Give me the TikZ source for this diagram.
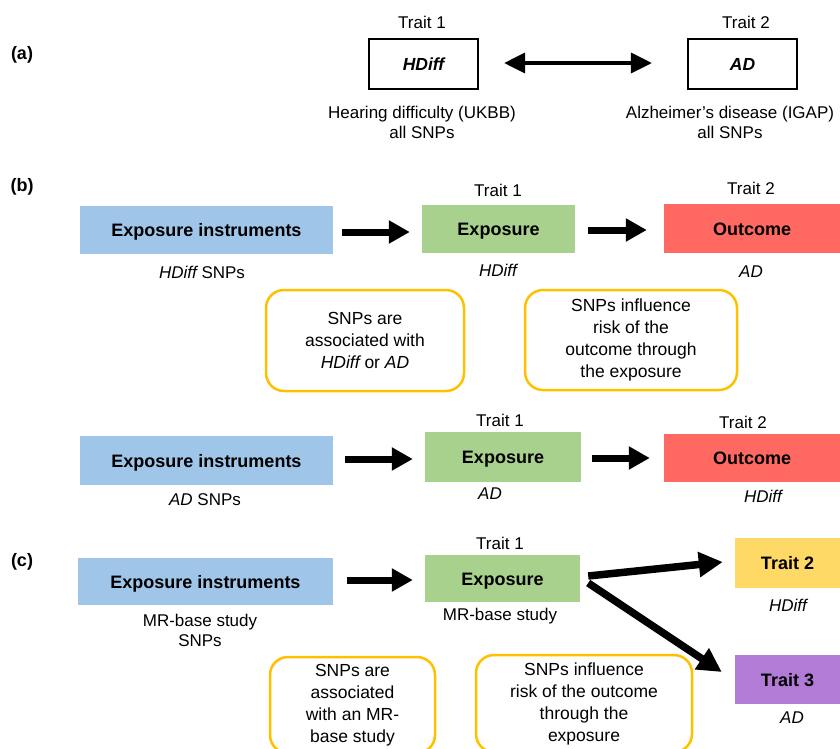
\documentclass[tikz,border=0pt]{standalone}
\usepackage{fontspec}
\setmainfont{Liberation Sans}
\usetikzlibrary{arrows.meta}
\definecolor{cblue}{HTML}{9FC5E8}
\definecolor{cgreen}{HTML}{A9D18E}
\definecolor{cred}{HTML}{FF6961}
\definecolor{cyellow}{HTML}{FFD966}
\definecolor{cpurple}{HTML}{B27CD6}
\definecolor{corange}{HTML}{FFC000}
\tikzset{
  fillbox/.style={inner sep=0pt, text height=13pt, text depth=0pt, font=\fontsize{18}{21}\selectfont\bfseries},
  framebox/.style={draw=black, line width=2.2pt, inner sep=0pt, text height=12.5pt, text depth=0pt, font=\fontsize{17.5}{21}\selectfont\bfseries\itshape},
  txt/.style={inner sep=0pt, align=center, font=\fontsize{17}{20}\selectfont},
  paren/.style={inner sep=0pt, font=\fontsize{18}{21}\selectfont\bfseries},
  rbox/.style={draw=corange, line width=2.5pt, rounded corners=18pt, inner sep=0pt, align=center, font=\fontsize{17.5}{22}\selectfont},
  fat/.style={line width=7pt, -{Triangle[length=21pt,width=22pt]}},
  fatter/.style={line width=7.5pt, -{Triangle[length=24pt,width=24pt]}},
  dbl/.style={line width=3.5pt, {Triangle[length=21pt,width=20pt]}-{Triangle[length=21pt,width=20pt]}}
}
\begin{document}
\begin{tikzpicture}[x=1pt,y=-1pt]
\useasboundingbox (0,0) rectangle (840,748);
% (a)
\node[paren] (la) at (22,55) {(a)};
\node[framebox, minimum width=109pt, minimum height=50pt] (hd) at (423.5,64) {HDiff};
\node[framebox, minimum width=109pt, minimum height=50pt] (ad) at (742.5,64) {AD};
\node[txt] (t1a) at (422,22) {Trait 1};
\node[txt] (t2a) at (746,22) {Trait 2};
\node[txt] (hda) at (422,122) {Hearing difficulty (UKBB)\\all SNPs};
\node[txt] (ada) at (730,122) {Alzheimer’s disease (IGAP)\\all SNPs};
\draw[dbl] ([xshift=25pt,yshift=1pt]hd.east) -- ([xshift=-35pt,yshift=1pt]ad.west);
% (b) row 1
\node[paren] (lb) at (22,187) {(b)};
\node[fillbox, fill=cblue, minimum width=253pt, minimum height=48pt] (ei1) at (206.5,230) {Exposure instruments};
\node[fillbox, fill=cgreen, minimum width=153pt, minimum height=48pt] (ex1) at (498.5,229) {Exposure};
\node[fillbox, fill=cred, minimum width=176pt, minimum height=49pt] (oc1) at (752,228.5) {Outcome};
\draw[fat] ([xshift=9pt,yshift=-2pt]ei1.east) -- ([xshift=-12pt,yshift=-3pt]ex1.west);
\draw[fat] ([xshift=13pt,yshift=-1pt]ex1.east) -- ([xshift=-17pt,yshift=-1.5pt]oc1.west);
\node[txt] (t1b) at (498,190) {Trait 1};
\node[txt] (t2b) at (751,188) {Trait 2};
\node[txt] (s1b) at (202,272) {\itshape HDiff\upshape{} SNPs};
\node[txt] (e1b) at (498,270) {\itshape HDiff};
\node[txt] (o1b) at (751,272) {\itshape AD};
\node[rbox, minimum width=198pt, minimum height=101pt] (rb1) at (365,340.5) {SNPs are\\associated with\\\itshape HDiff\upshape{} or \itshape AD};
\node[rbox, minimum width=212pt, minimum height=100pt] (rb2) at (631,340) {SNPs influence\\risk of the\\outcome through\\the exposure};
% (b) row 2
\node[fillbox, fill=cblue, minimum width=253pt, minimum height=49pt] (ei2) at (206.5,460.5) {Exposure instruments};
\node[fillbox, fill=cgreen, minimum width=156pt, minimum height=50pt] (ex2) at (503,457) {Exposure};
\node[fillbox, fill=cred, minimum width=176pt, minimum height=48pt] (oc2) at (752,458) {Outcome};
\draw[fat] ([xshift=12pt,yshift=1.5pt]ei2.east) -- ([xshift=-12pt,yshift=-2pt]ex2.west);
\draw[fat] ([xshift=11pt,yshift=-1pt]ex2.east) -- ([xshift=-14pt]oc2.west);
\node[txt] (t1c) at (500,420) {Trait 1};
\node[txt] (t2c) at (743,422) {Trait 2};
\node[txt] (s2b) at (205,500) {\itshape AD\upshape{} SNPs};
\node[txt] (e2b) at (490,494) {\itshape AD};
\node[txt] (o2b) at (763,496) {\itshape HDiff};
% (c)
\node[paren] (lc) at (22,562) {(c)};
\node[fillbox, fill=cblue, minimum width=255pt, minimum height=47pt] (ei3) at (205.5,581.5) {Exposure instruments};
\node[fillbox, fill=cgreen, minimum width=155pt, minimum height=47pt] (ex3) at (502.5,578.5) {Exposure};
\node[fillbox, fill=cyellow, minimum width=105pt, minimum height=50pt] (tr2) at (787.5,563) {Trait 2};
\node[fillbox, fill=cpurple, minimum width=105pt, minimum height=49pt] (tr3) at (787.5,679.5) {Trait 3};
\draw[fat] ([xshift=14pt,yshift=1.5pt]ei3.east) -- ([xshift=-12pt,yshift=-1.5pt]ex3.west);
\draw[fatter] ([xshift=8pt,yshift=2.5pt]ex3.east) -- ([xshift=-12pt,yshift=1pt]tr2.west);
\draw[fatter] ([xshift=8pt,yshift=-4.5pt]ex3.east) -- ([xshift=-13pt,yshift=7.5pt]tr3.west);
\node[txt] (t1d) at (500,543) {Trait 1};
\node[txt] (e3c) at (500,616) {MR-base study};
\node[txt] (s3c) at (200,630) {MR-base study\\SNPs};
\node[txt] (o3c) at (788,605) {\itshape HDiff};
\node[txt] (o4c) at (792,718) {\itshape AD};
\node[rbox, minimum width=165pt, minimum height=96pt] (rb3) at (352.5,705) {SNPs are\\associated\\with an MR-\\base study};
\node[rbox, minimum width=216pt, minimum height=97pt] (rb4) at (584,703.5) {SNPs influence\\risk of the outcome\\through the\\exposure};
\end{tikzpicture}
\end{document}
